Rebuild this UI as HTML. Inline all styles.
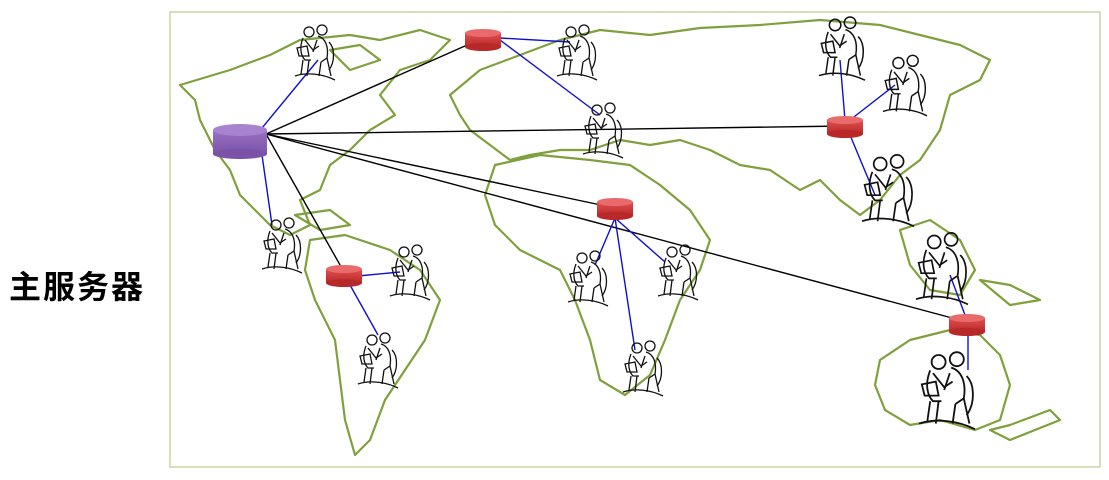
<!DOCTYPE html>
<html><head><meta charset="utf-8"><style>
body{margin:0;background:#fff;width:1109px;height:480px;overflow:hidden;position:relative}
.lbl{position:absolute;left:9px;top:262px;font:bold 32px "Liberation Sans","Noto Sans CJK SC",sans-serif;color:#000;letter-spacing:2px}
svg{position:absolute;left:0;top:0}
</style></head><body>
<div class="lbl">主服务器</div>
<svg width="1109" height="480" viewBox="0 0 1109 480">
<defs>
<linearGradient id="rg" x1="0" x2="0" y1="0" y2="1"><stop offset="0" stop-color="#e05050"/><stop offset="1" stop-color="#b82828"/></linearGradient>
<linearGradient id="pg" x1="0" x2="0" y1="0" y2="1"><stop offset="0" stop-color="#9a72c4"/><stop offset="1" stop-color="#7a52a8"/></linearGradient>
<g id="man" fill="none" stroke="#111" stroke-width="1.3">
<circle cx="-6" cy="-20" r="5"/><circle cx="7" cy="-22" r="5"/>
<path d="M-12,-14 C-16,-4 -14,4 -10,8 L-4,8 M-10,-12 L-2,-2 L4,-6"/>
<path d="M3,-16 C10,-14 14,-6 12,6 L6,10 M2,-12 L-2,0"/>
<path d="M-18,-4 L-8,-6 L-6,4 L-16,4 Z"/>
<path d="M-12,8 L-14,22 M-6,8 L-8,24 M6,10 L4,24 M12,6 L16,24 M-20,24 C-8,20 8,22 20,28"/>
<path d="M14,-10 C20,-4 20,10 14,18"/>
</g>
<g id="rs">
<rect x="-18" y="-7" width="36" height="14" fill="url(#rg)"/>
<ellipse cx="0" cy="7" rx="18" ry="4" fill="#b82828"/>
<ellipse cx="0" cy="-7" rx="18" ry="4" fill="#e86a6a"/>
</g>
</defs>
<rect x="170" y="12" width="930" height="455" fill="none" stroke="#c8d3a8" stroke-width="1.5"/>
<g fill="none" stroke="#7fa03c" stroke-width="2.2" stroke-linejoin="round">
<path d="M180,85 L230,70 L270,55 L300,40 L350,35 L380,40 L420,30 L450,40 L430,60 L400,70 L380,95 L395,115 L370,130 L350,150 L330,165 L320,190 L300,200 L310,225 L290,235 L270,225 L255,210 L240,195 L230,170 L215,150 L200,120 L195,100 Z"/>
<path d="M330,50 L360,45 L380,60 L350,70 Z"/>
<path d="M295,215 L330,210 L350,225 L320,230 Z"/>
<path d="M310,240 L345,235 L390,250 L420,270 L440,300 L425,340 L405,370 L385,400 L370,440 L355,455 L345,420 L340,380 L335,340 L315,300 L305,270 Z"/>
<path d="M450,95 L480,70 L520,55 L560,40 L600,30 L650,35 L700,28 L760,25 L820,20 L880,25 L920,35 L960,45 L990,60 L980,80 L950,95 L940,130 L920,160 L900,175 L880,200 L860,215 L840,200 L820,180 L800,190 L770,170 L740,165 L710,150 L680,140 L650,145 L620,140 L590,150 L560,150 L530,155 L510,160 L490,145 L470,130 L460,115 Z"/>
<path d="M495,165 L540,155 L590,160 L630,165 L660,185 L690,210 L710,240 L700,270 L680,300 L665,340 L650,375 L625,395 L600,380 L590,340 L575,300 L560,270 L520,250 L495,225 L485,195 Z"/>
<path d="M900,230 L930,220 L960,240 L975,270 L960,295 L930,290 L910,265 Z"/>
<path d="M980,280 L1010,285 L1040,300 L1010,305 Z"/>
<path d="M880,360 L910,340 L950,330 L980,335 L1000,355 L1010,385 L1000,420 L975,430 L940,420 L910,425 L885,410 L875,385 Z"/>
<path d="M990,430 L1010,425 L1050,410 L1060,420 L1010,440 Z"/>
</g>
<g stroke="#000" stroke-width="1.4">
<line x1="266" y1="134" x2="483" y2="38"/>
<line x1="266" y1="134" x2="845" y2="126"/>
<line x1="266" y1="134" x2="615" y2="208"/>
<line x1="266" y1="134" x2="344" y2="272"/>
<line x1="266" y1="134" x2="967" y2="322"/>
</g>
<g stroke="#1010d0" stroke-width="1.4">
<line x1="262" y1="128" x2="318" y2="60"/>
<line x1="262" y1="155" x2="272" y2="225"/>
<line x1="500" y1="38" x2="570" y2="42"/>
<line x1="500" y1="40" x2="600" y2="115"/>
<line x1="845" y1="120" x2="840" y2="60"/>
<line x1="850" y1="120" x2="895" y2="85"/>
<line x1="850" y1="135" x2="875" y2="195"/>
<line x1="358" y1="276" x2="400" y2="272"/>
<line x1="350" y1="285" x2="378" y2="335"/>
<line x1="615" y1="218" x2="595" y2="265"/>
<line x1="615" y1="218" x2="665" y2="262"/>
<line x1="615" y1="218" x2="635" y2="350"/>
<line x1="965" y1="315" x2="950" y2="275"/>
<line x1="968" y1="334" x2="968" y2="370"/>
</g>
<use href="#man" transform="translate(315,52)"/>
<use href="#man" transform="translate(577,52)"/>
<use href="#man" transform="translate(603,130)"/>
<use href="#man" transform="translate(842,48) scale(1.15)"/>
<use href="#man" transform="translate(905,85) scale(1.1)"/>
<use href="#man" transform="translate(888,190) scale(1.3)"/>
<use href="#man" transform="translate(282,245)"/>
<use href="#man" transform="translate(410,272)"/>
<use href="#man" transform="translate(588,278)"/>
<use href="#man" transform="translate(678,272)"/>
<use href="#man" transform="translate(378,360)"/>
<use href="#man" transform="translate(643,368)"/>
<use href="#man" transform="translate(942,268) scale(1.3)"/>
<use href="#man" transform="translate(947,390) scale(1.4)"/>
<g>
<rect x="213" y="130" width="54" height="24" fill="url(#pg)"/>
<ellipse cx="240" cy="154" rx="27" ry="5" fill="#7a52a8"/>
<ellipse cx="240" cy="130" rx="27" ry="6" fill="#a884d0"/>
</g>
<use href="#rs" transform="translate(483,40)"/>
<use href="#rs" transform="translate(845,127)"/>
<use href="#rs" transform="translate(615,209)"/>
<use href="#rs" transform="translate(344,276)"/>
<use href="#rs" transform="translate(967,325)"/>
</svg>
</body></html>
